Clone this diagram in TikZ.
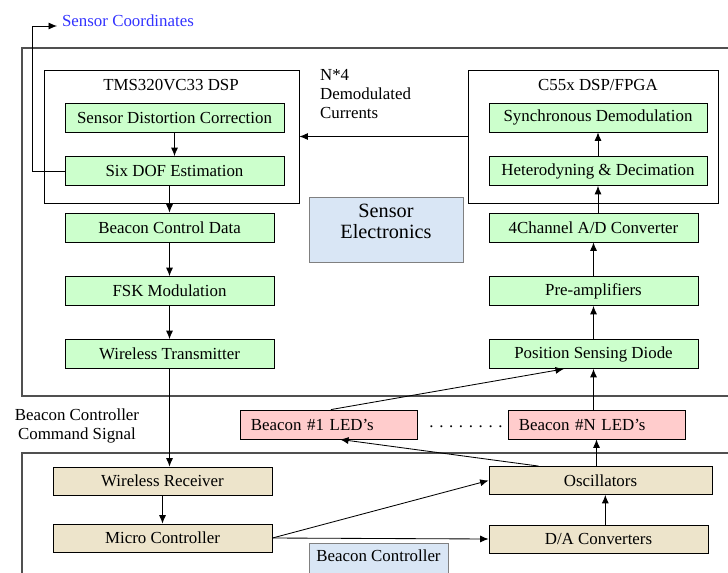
\documentclass[tikz,border=0pt]{standalone}
\usepackage{fontspec}
\setmainfont{Liberation Serif}
\usepackage{tikz}
\usetikzlibrary{arrows.meta,positioning}

\definecolor{grnfill}{RGB}{204,255,204}
\definecolor{tanfill}{RGB}{237,228,203}
\definecolor{pnkfill}{RGB}{255,204,204}
\definecolor{blufill}{RGB}{217,230,245}
\definecolor{frame}{RGB}{80,80,80}
\definecolor{coordblue}{RGB}{51,51,255}

\begin{document}
\begin{tikzpicture}[
  x=0.025cm, y=-0.025cm,
  font=\fontsize{12}{14}\selectfont,
  line width=0.6pt,
  arr/.style={-{Latex[length=6pt,width=5pt]}},
  grp/.style={draw, minimum height=3.325cm},
  grn/.style={draw, fill=grnfill, minimum height=0.725cm, inner sep=1pt},
  tan/.style={draw, fill=tanfill, minimum height=0.7cm, inner sep=1pt},
  pnk/.style={draw, fill=pnkfill, minimum height=0.725cm, inner xsep=0.275cm, text width=3.875cm, align=left},
  note/.style={draw=gray, fill=blufill, align=center, inner sep=1pt},
  outer/.style={draw=frame, line width=0.8pt}
]
\useasboundingbox (0,0) rectangle (728,572);
\clip (0,0) rectangle (728,572);

%--- Sensor electronics frame ---
\draw[outer] (22,48) rectangle (735,396);
\node[note, minimum width=3.85cm, minimum height=1.625cm] (sens) at (386,229.5) {};
\node[align=center, font=\fontsize{14.4}{15}\selectfont] (senslbl) at (386,221.5) {Sensor\\Electronics};

%--- TMS320VC33 DSP (left) ---
\node[grp, minimum width=6.375cm] (tms) at (171.5,136.5) {};
\node (tmslbl) at (171,85) {TMS320VC33 DSP};
\node[grn, minimum width=5.475cm] (sdc) at (174.5,117.5) {Sensor Distortion Correction};
\node[grn, minimum width=5.475cm] (dof) at (174.5,171) {Six DOF Estimation};
\node[grn, minimum width=5.225cm] (bcd) at (169.5,227.5) {Beacon Control Data};
\node[grn, minimum width=5.225cm] (fsk) at (169.5,291) {FSK Modulation};
\node[grn, minimum width=5.225cm] (wtx) at (169.5,354) {Wireless Transmitter};
\node[anchor=base west, text=coordblue] (coords) at (57,26) {Sensor Coordinates};

%--- C55x DSP/FPGA (right) ---
\node[grp, minimum width=6.25cm] (c55) at (593,136.5) {};
\node (c55lbl) at (598,85) {C55x DSP/FPGA};
\node[grn, minimum width=5.45cm] (sync) at (598,117.5) {Synchronous Demodulation};
\node[grn, minimum width=5.45cm] (het) at (598,171) {Heterodyning \& Decimation};
\node[grn, minimum width=5.225cm] (adc) at (593.5,227.5) {4Channel A/D Converter};
\node[grn, minimum width=5.225cm] (pre) at (593.5,291) {Pre-amplifiers};
\node[grn, minimum width=5.225cm] (psd) at (593.5,354) {Position Sensing Diode};
\node[anchor=north west, align=left, font=\fontsize{12}{13.5}\selectfont] (n4) at (315,64) {N*4\\Demodulated\\Currents};

%--- Beacons ---
\node[align=center] (cmd) at (77,426) {Beacon Controller\\Command Signal};
\node[pnk] (led1) at (328.5,424.5) {Beacon \#1 LED's};
\node[pnk] (ledn) at (596.5,424.5) {Beacon \#N LED's};
\node (dots) at (466,427) {. . . . . . . .};

%--- Beacon controller frame ---
\draw[outer] (22,453) rectangle (735,600);
\node[tan, minimum width=5.475cm] (wrx) at (162.5,481) {Wireless Receiver};
\node[tan, minimum width=5.475cm] (mcu) at (162.5,538) {Micro Controller};
\node[tan, minimum width=5.575cm] (osc) at (600.5,480.5) {Oscillators};
\node[tan, minimum width=5.475cm] (dac) at (598.5,539) {D/A Converters};
\node[note, minimum width=3.475cm, minimum height=1.05cm, anchor=north] (bctl) at (378.5,543) {};
\node (bctllbl) at (378.5,556) {Beacon Controller};

%--- connectors ---
\draw[arr] (sdc) -- (dof);
\draw[arr] (dof.south -| bcd) -- (bcd);
\draw[arr] (bcd) -- (fsk);
\draw[arr] (fsk) -- (wtx);
\draw[arr] (wtx.south) -- (wtx.south |- wrx.north);
\draw[arr] (dof.west) -- ++(-32,0) |- (coords.base west);
\draw[arr] (c55) -- (tms);
\draw[arr] (het) -- (sync);
\draw[arr] (adc.north -| het) -- (het);
\draw[arr] (pre) -- (adc);
\draw[arr] (psd) -- (pre);
\draw[arr] (ledn.north -| psd) -- (psd);
\draw[arr] ([xshift=0.06cm]led1.north) -- ([xshift=-0.74cm]psd.south);
\draw[arr] (osc.north -| ledn) -- (ledn);
\draw[arr] ([xshift=1.25cm]osc.north west) -- ([xshift=0.29cm]led1.south);
\draw[arr] (wrx) -- (mcu);
\draw[arr] (mcu.east) -- (osc.west);
\draw[arr] (mcu.east) -- (dac.west);
\draw[arr] ([xshift=0.17cm]dac.north) -- ([xshift=0.17cm]dac.north |- osc.south);
\end{tikzpicture}
\end{document}
